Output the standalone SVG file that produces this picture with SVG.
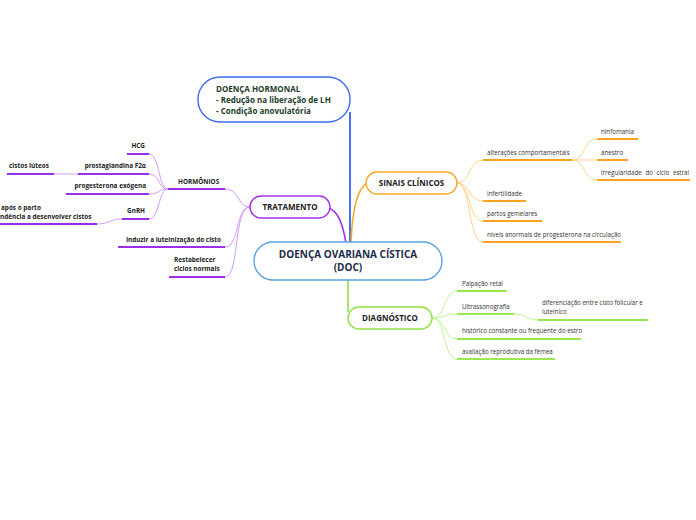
<svg xmlns="http://www.w3.org/2000/svg" width="696" height="520" viewBox="0 0 696 520">
<style>
text{font-family:"Open Sans","Noto Sans","Liberation Sans",sans-serif;}
.leaf{font-size:6.2px;fill:#333;}
.pl{font-size:6.4px;fill:#222;font-weight:bold;}
.ul-p{stroke:#9b2ee8;stroke-width:2;fill:none;}
.ul-o{stroke:#ffa21f;stroke-width:2;fill:none;}
.ul-g{stroke:#9be84e;stroke-width:2;fill:none;}
.c-p{stroke:#d29af8;stroke-width:1;fill:none;}
.c-o{stroke:#ffd38a;stroke-width:1;fill:none;}
.c-g{stroke:#c2f292;stroke-width:1;fill:none;}
.main{font-weight:bold;fill:#1c2b4a;}
</style>
<rect width="696" height="520" fill="#ffffff"/>
<g id="connectors">
<path d="M350,112 L350,243" stroke="#2f62f5" stroke-width="1.8" fill="none"/>
<path d="M329,208 C339,212 343,226 346,243" stroke="#a233e8" stroke-width="1.6" fill="none"/>
<path d="M351,243 C352,215 356,190 367,183" stroke="#f8a82a" stroke-width="1.6" fill="none"/>
<path d="M348,280 L348,312" stroke="#8ee03e" stroke-width="1.6" fill="none"/>
<path class="c-p" d="M250,207 C237,207 240,189 225,189"/>
<path class="c-p" d="M250,207 C235,207 240,247 225,247"/>
<path class="c-p" d="M250,207 C233,207 240,277 225,277"/>
<path class="c-p" d="M168,189 C158,189 160,154 149,154"/>
<path class="c-p" d="M168,189 C158,189 160,174 149,174"/>
<path class="c-p" d="M168,189 C158,189 160,194 149,194"/>
<path class="c-p" d="M168,189 C158,189 160,219 149,219"/>
<path class="c-p" d="M78,174 C68,174 65,174 54,174"/>
<path class="c-p" d="M122,219 C110,219 110,224 97,224"/>
<path class="c-o" d="M457,183 C471,183 468,160 483,160"/>
<path class="c-o" d="M457,183 C471,183 468,201 483,201"/>
<path class="c-o" d="M457,183 C471,183 468,221 483,221"/>
<path class="c-o" d="M457,183 C471,183 468,242 483,242"/>
<path class="c-o" d="M572,160 C586,160 583,139 597,139"/>
<path class="c-o" d="M572,160 L597,160"/>
<path class="c-o" d="M572,160 C586,160 583,180 597,180"/>
<path class="c-g" d="M432,318 C446,318 443,291 457,291"/>
<path class="c-g" d="M432,318 C446,318 443,314 457,314"/>
<path class="c-g" d="M432,318 C446,318 443,339 457,339"/>
<path class="c-g" d="M432,318 C446,318 443,359 457,359"/>
<path class="c-g" d="M514,314 C526,314 526,320 538,320"/>
</g>
<g id="node-hormonal">
<rect x="198" y="77" width="152" height="45" rx="22" fill="#fff" stroke="#3d6cf0" stroke-width="1.4"/>
<text x="216" y="92" font-size="8" font-weight="bold" fill="#1d3d2a">DOENÇA HORMONAL</text>
<text x="216" y="103" font-size="8" font-weight="bold" fill="#1d3d2a">- Redução na liberação de LH</text>
<text x="216" y="114" font-size="8" font-weight="bold" fill="#1d3d2a">- Condição anovulatória</text>
</g>
<g id="node-central">
<rect x="254" y="242" width="188" height="38" rx="19" fill="#fff" stroke="#5aa3e0" stroke-width="1.4"/>
<text x="348" y="258" font-size="10" text-anchor="middle" class="main">DOENÇA OVARIANA CÍSTICA</text>
<text x="348" y="271" font-size="10" text-anchor="middle" class="main">(DOC)</text>
</g>
<g id="node-tratamento">
<rect x="250" y="196" width="80" height="22" rx="11" fill="#fff" stroke="#a233e8" stroke-width="1.4"/>
<text x="290" y="210" font-size="8" text-anchor="middle" class="main" style="fill:#222">TRATAMENTO</text>
</g>
<g id="node-sinais">
<rect x="366" y="172" width="91" height="22" rx="11" fill="#fff" stroke="#f8a82a" stroke-width="1.4"/>
<text x="411.5" y="186" font-size="8" text-anchor="middle" class="main" style="fill:#222">SINAIS CLÍNICOS</text>
</g>
<g id="node-diagnostico">
<rect x="348" y="307" width="84" height="22" rx="11" fill="#fff" stroke="#8ee03e" stroke-width="1.4"/>
<text x="390" y="321" font-size="8" text-anchor="middle" class="main" style="fill:#222">DIAGNÓSTICO</text>
</g>
<g id="node-hormonios">
<text x="178" y="184" class="pl">HORMÔNIOS</text>
<path class="ul-p" d="M168,189 L225,189"/>
</g>
<g id="node-hcg">
<text x="145" y="148" class="pl" text-anchor="end">HCG</text>
<path class="ul-p" d="M127,154 L149,154"/>
</g>
<g id="node-prostaglandina">
<text x="146" y="168" class="pl" text-anchor="end">prostaglandina F2α</text>
<path class="ul-p" d="M78,174 L149,174"/>
</g>
<g id="node-cistos-luteos">
<text x="9" y="168" class="pl">cistos lúteos</text>
<path class="ul-p" d="M7,174 L54,174"/>
</g>
<g id="node-progesterona">
<text x="146" y="188" class="pl" text-anchor="end">progesterona exógena</text>
<path class="ul-p" d="M66,194 L149,194"/>
</g>
<g id="node-gnrh">
<text x="145" y="213" class="pl" text-anchor="end">GnRH</text>
<path class="ul-p" d="M122,219 L149,219"/>
</g>
<g id="node-apos-parto">
<text x="1" y="210" class="pl">após o parto</text>
<text x="0" y="219" class="pl">ndência a desenvolver cistos</text>
<path class="ul-p" d="M0,224 L97,224"/>
</g>
<g id="node-induzir">
<text x="221" y="242" class="pl" text-anchor="end">Induzir a luteinização do cisto</text>
<path class="ul-p" d="M118,247 L225,247"/>
</g>
<g id="node-restabelecer">
<text x="174" y="262" class="pl">Restabelecer</text>
<text x="174" y="271" class="pl">ciclos normais</text>
<path class="ul-p" d="M169,277 L225,277"/>
</g>
<g id="node-alteracoes">
<text x="487" y="155" class="leaf">alterações comportamentais</text>
<path class="ul-o" d="M483,160 L572,160"/>
</g>
<g id="node-ninfomania">
<text x="601" y="134" class="leaf">ninfomania</text>
<path class="ul-o" d="M597,139 L638,139"/>
</g>
<g id="node-anestro">
<text x="601" y="155" class="leaf">anestro</text>
<path class="ul-o" d="M597,160 L628,160"/>
</g>
<g id="node-irregularidade">
<text x="601" y="175" class="leaf" word-spacing="2">irregularidade do ciclo estral</text>
<path class="ul-o" d="M597,180 L690,180"/>
</g>
<g id="node-infertilidade">
<text x="487" y="196" class="leaf">Infertilidade</text>
<path class="ul-o" d="M483,201 L526,201"/>
</g>
<g id="node-partos">
<text x="487" y="216" class="leaf">partos gemelares</text>
<path class="ul-o" d="M483,221 L542,221"/>
</g>
<g id="node-niveis">
<text x="487" y="237" class="leaf">níveis anormais de progesterona na circulação</text>
<path class="ul-o" d="M483,242 L621,242"/>
</g>
<g id="node-palpacao">
<text x="462" y="286" class="leaf">Palpação retal</text>
<path class="ul-g" d="M457,291 L507,291"/>
</g>
<g id="node-ultrassonografia">
<text x="462" y="309" class="leaf">Ultrassonografia</text>
<path class="ul-g" d="M457,314 L514,314"/>
</g>
<g id="node-diferenciacao">
<text x="542" y="305" class="leaf">diferenciação entre  cisto folicular e</text>
<text x="542" y="314" class="leaf">luteínico</text>
<path class="ul-g" d="M538,320 L648,320"/>
</g>
<g id="node-historico">
<text x="462" y="333" class="leaf">histórico constante ou frequente do estro</text>
<path class="ul-g" d="M457,339 L581,339"/>
</g>
<g id="node-avaliacao">
<text x="462" y="354" class="leaf">avaliação reprodutiva da fêmea</text>
<path class="ul-g" d="M457,359 L555,359"/>
</g>
</svg>
